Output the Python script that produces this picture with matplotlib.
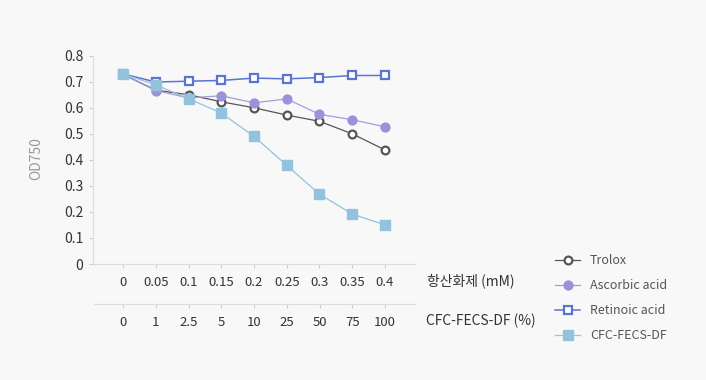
import matplotlib
matplotlib.use('Agg')
import matplotlib.pyplot as plt
import numpy as np

plt.rcParams['font.family'] = ['Noto Sans CJK KR', 'DejaVu Sans']

# data
conc_mM = ['0', '0.05', '0.1', '0.15', '0.2', '0.25', '0.3', '0.35', '0.4']
conc_pct = ['0', '1', '2.5', '5', '10', '25', '50', '75', '100']
trolox = [0.728, 0.668, 0.650, 0.623, 0.600, 0.572, 0.548, 0.500, 0.438]
ascorbic = [0.728, 0.666, 0.638, 0.646, 0.619, 0.634, 0.575, 0.554, 0.527]
retinoic = [0.730, 0.699, 0.702, 0.705, 0.714, 0.711, 0.716, 0.724, 0.724]
cfc = [0.730, 0.688, 0.635, 0.580, 0.490, 0.379, 0.268, 0.192, 0.150]

bg = '#f8f8f8'
fig = plt.figure(figsize=(7.06, 3.80), dpi=100, facecolor=bg)
W, H = 706, 380
x0, x1, ytop, ybot = 93, 415, 55.7, 264
ax = fig.add_axes([x0 / W, 1 - ybot / H, (x1 - x0) / W, (ybot - ytop) / H])
ax.set_facecolor(bg)

x = np.arange(len(conc_mM))

ax.plot(x, trolox, color='#555555', lw=0.9, marker='o', ms=5.6,
        mfc='white', mec='#555555', mew=1.6, label='Trolox', zorder=3)
ax.plot(x, ascorbic, color='#a39de0', lw=0.9, marker='o', ms=6.4,
        mfc='#9a93da', mec='#9a93da', label='Ascorbic acid', zorder=4)
ax.plot(x, retinoic, color='#5a74d2', lw=1.1, marker='s', ms=5.6,
        mfc='white', mec='#5a74d2', mew=1.6, label='Retinoic acid', zorder=5)
ax.plot(x, cfc, color='#93c2dc', lw=0.9, marker='s', ms=7.2,
        mfc='#93c2dc', mec='#93c2dc', label='CFC-FECS-DF', zorder=6)

pad = (x0 - 123) / ((385 - 123) / 8)
ax.set_xlim(pad, 8 - pad)
ax.set_ylim(0, 0.8)
ax.set_yticks(np.arange(0, 0.81, 0.1))
ax.set_yticklabels(['0', '0.1', '0.2', '0.3', '0.4', '0.5', '0.6', '0.7', '0.8'])
ax.set_xticks(x)
ax.set_xticklabels(conc_mM)

for s in ['top', 'right']:
    ax.spines[s].set_visible(False)
for s in ['left', 'bottom']:
    ax.spines[s].set_color('#dddddd')
    ax.spines[s].set_linewidth(0.9)
ax.tick_params(axis='y', length=3, width=0.8, color='#cccccc', pad=4,
               labelsize=10, labelcolor='#333333')
ax.tick_params(axis='x', length=3, width=0.8, color='#cccccc', pad=5.5,
               labelsize=9.5, labelcolor='#333333')

# second category row (CFC-FECS-DF %)
y2 = 304
ax2 = fig.add_axes([94 / W, 1 - y2 / H, (x1 - 94) / W, 0.0001])
ax2.patch.set_visible(False)
ax2.set_xlim(pad + (94 - x0) / ((385 - 123) / 8), 8 - pad)
ax2.set_yticks([])
ax2.set_xticks(x)
ax2.set_xticklabels(conc_pct)
for s in ['top', 'right', 'left']:
    ax2.spines[s].set_visible(False)
ax2.spines['bottom'].set_color('#dddddd')
ax2.spines['bottom'].set_linewidth(0.9)
ax2.tick_params(axis='x', length=3, width=0.8, color='#cccccc', pad=5.5,
                labelsize=9.5, labelcolor='#333333')

fig.text(427 / W, 1 - 281 / H, '항산화제 (mM)', fontsize=10, color='#333333',
         ha='left', va='center')
fig.text(426 / W, 1 - 321 / H, 'CFC-FECS-DF (%)', fontsize=10, color='#333333',
         ha='left', va='center')
fig.text(36 / W, 1 - 159 / H, 'OD750', fontsize=10, color='#999999',
         rotation=90, ha='center', va='center')

handles, labels = ax.get_legend_handles_labels()
fig.legend(handles, labels, loc='upper left',
           bbox_to_anchor=(555 / W, 1 - 254.5 / H), frameon=False,
           fontsize=9, labelcolor='#555555', handlelength=2.0,
           handletextpad=0.8, labelspacing=0.95, borderpad=0,
           borderaxespad=0)

fig.savefig('out.png', dpi=100, facecolor=bg)
